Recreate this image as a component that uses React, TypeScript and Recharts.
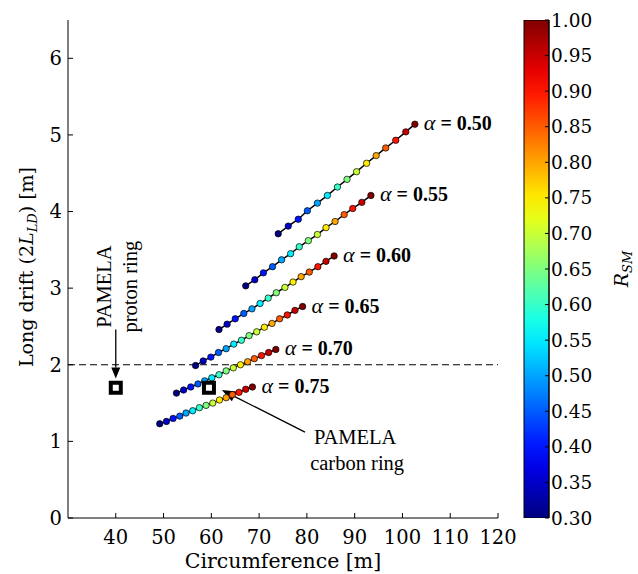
import React from "react";
import {
  ComposedChart,
  BarChart,
  Bar,
  Scatter,
  XAxis,
  YAxis,
  ReferenceLine,
  ReferenceDot,
} from "recharts";

// R_SM value of each point along a line (same for every alpha)
const rsm = [0.3, 0.35, 0.4, 0.45, 0.5, 0.55, 0.6, 0.65, 0.7, 0.75, 0.8, 0.85, 0.9, 0.95, 1.0];

const circ050 = [74.0, 76.1, 78.2, 80.1, 82.2, 84.3, 86.4, 88.4, 90.4, 92.5, 94.5, 96.5, 98.6, 100.7, 102.6];
const drift050 = [3.71, 3.81, 3.9, 4.01, 4.11, 4.21, 4.32, 4.42, 4.52, 4.63, 4.73, 4.83, 4.93, 5.04, 5.14];

const circ055 = [67.2, 69.1, 70.9, 72.8, 74.7, 76.6, 78.4, 80.3, 82.2, 84.0, 85.9, 87.8, 89.6, 91.5, 93.4];
const drift055 = [3.03, 3.11, 3.2, 3.28, 3.37, 3.45, 3.54, 3.62, 3.7, 3.79, 3.87, 3.96, 4.04, 4.12, 4.21];

const circ060 = [61.6, 63.3, 65.0, 66.8, 68.5, 70.2, 71.9, 73.6, 75.4, 77.1, 78.8, 80.5, 82.3, 84.0, 85.7];
const drift060 = [2.46, 2.53, 2.6, 2.67, 2.73, 2.8, 2.87, 2.94, 3.01, 3.08, 3.15, 3.21, 3.28, 3.35, 3.42];

const circ065 = [56.7, 58.3, 59.9, 61.5, 63.1, 64.7, 66.3, 67.9, 69.5, 71.1, 72.7, 74.3, 75.9, 77.5, 79.1];
const drift065 = [1.99, 2.05, 2.1, 2.16, 2.21, 2.27, 2.32, 2.38, 2.43, 2.49, 2.54, 2.6, 2.65, 2.71, 2.76];

const circ070 = [52.7, 54.2, 55.7, 57.2, 58.6, 60.1, 61.6, 63.1, 64.6, 66.1, 67.6, 69.0, 70.5, 72.0, 73.5];
const drift070 = [1.63, 1.67, 1.71, 1.75, 1.79, 1.83, 1.87, 1.92, 1.96, 2.0, 2.04, 2.08, 2.12, 2.16, 2.2];

const circ075 = [49.2, 50.6, 52.0, 53.4, 54.7, 56.1, 57.5, 58.9, 60.3, 61.7, 63.1, 64.4, 65.8, 67.2, 68.6];
const drift075 = [1.23, 1.26, 1.3, 1.33, 1.37, 1.4, 1.44, 1.47, 1.5, 1.54, 1.57, 1.61, 1.64, 1.68, 1.71];

const alphas = ["0.50", "0.55", "0.60", "0.65", "0.70", "0.75"];
const circs = [circ050, circ055, circ060, circ065, circ070, circ075];
const drifts = [drift050, drift055, drift060, drift065, drift070, drift075];

// PAMELA proton ring, carbon ring
const pamelaCirc = [40, 59.5];
const pamelaDrift = [1.7, 1.7];

const xTicks = [40, 50, 60, 70, 80, 90, 100, 110, 120];
const yTicks = [0, 1, 2, 3, 4, 5, 6];

const jet = (v: number) => {
  const t = (v - 0.3) / 0.7;
  const c = (d: number) => Math.max(0, Math.min(1, 1.5 - Math.abs(4 * t - d)));
  return `rgb(${Math.round(255 * c(3))},${Math.round(255 * c(2))},${Math.round(255 * c(1))})`;
};

const series = alphas.map((a, i) => ({
  alpha: a,
  data: circs[i].map((x, j) => ({ x, y: drifts[i][j], r: rsm[j] })),
}));

const pamela = pamelaCirc.map((x, i) => ({ x, y: pamelaDrift[i] }));

// colour bar: one bar spanning the whole R_SM range
const cbData = [{ name: "R_SM", range: [rsm[0], rsm[rsm.length - 1]] }];

const serif = "DejaVu Serif";
const times = "Liberation Serif";

const Dot = (p: any) => (
  <circle cx={p.cx} cy={p.cy} r={3.2} fill={jet(p.payload.r)} stroke="#000" strokeWidth={0.7} />
);

const Square = (p: any) => (
  <rect x={p.cx - 5} y={p.cy - 5} width={10} height={10} fill="#fff" stroke="#000" strokeWidth={4} />
);

const arrow = (head: number, wing: number) => (p: any) => {
  const { x1, y1, x2, y2 } = p;
  const dx = x2 - x1;
  const dy = y2 - y1;
  const len = Math.sqrt(dx * dx + dy * dy);
  const ux = dx / len;
  const uy = dy / len;
  const bx = x2 - ux * head;
  const by = y2 - uy * head;
  return (
    <g>
      <line x1={x1} y1={y1} x2={bx} y2={by} stroke="#000" strokeWidth={1.3} />
      <polygon
        points={`${x2},${y2} ${bx - uy * wing},${by + ux * wing} ${bx + uy * wing},${by - ux * wing}`}
        fill="#000"
      />
    </g>
  );
};

const alphaTag = (a: string) => (p: any) => (
  <text x={p.cx + 9} y={p.cy + 6} fontFamily={times} fontSize={20} fill="#000">
    <tspan fontStyle="italic" fontSize={22}>α</tspan>
    <tspan fontWeight="bold"> = {a}</tspan>
  </text>
);

const protonText = (p: any) => (
  <g fontFamily={times} fontSize={20.5} fill="#000" textAnchor="middle">
    <text x={p.cx} y={p.cy} transform={`rotate(-90 ${p.cx} ${p.cy})`}>PAMELA</text>
    <text x={p.cx + 26} y={p.cy} transform={`rotate(-90 ${p.cx + 26} ${p.cy})`}>proton ring</text>
  </g>
);

const carbonText = (p: any) => (
  <g fontFamily={times} fontSize={20.5} fill="#000" textAnchor="middle">
    <text x={p.cx} y={p.cy}>PAMELA</text>
    <text x={p.cx + 2} y={p.cy + 26}>carbon ring</text>
  </g>
);

const DriftLabel = (p: any) => {
  const x = p.viewBox.x + 15;
  const y = p.viewBox.y + p.viewBox.height / 2 - 2;
  return (
    <text x={x} y={y} transform={`rotate(-90 ${x} ${y})`} textAnchor="middle" fontFamily={serif} fontSize={19} fill="#000">
      Long drift (2<tspan fontStyle="italic">L</tspan>
      <tspan fontStyle="italic" fontSize={13} dy={4}>LD</tspan>
      <tspan dy={-4}>) [m]</tspan>
    </text>
  );
};

const RsmLabel = (p: any) => {
  const x = p.viewBox.x + p.viewBox.width - 10;
  const y = p.viewBox.y + p.viewBox.height / 2;
  return (
    <text x={x} y={y} transform={`rotate(-90 ${x} ${y})`} textAnchor="middle" fontFamily={serif} fontSize={19} fill="#000">
      <tspan fontStyle="italic">R</tspan>
      <tspan fontStyle="italic" fontSize={13} dy={4}>SM</tspan>
    </text>
  );
};

const tickStyle = { fontFamily: serif, fontSize: 19.5, fill: "#000" };
const cbTickStyle = { fontFamily: serif, fontSize: 18.5, fill: "#000" };
const gradStops = Array.from({ length: 21 }, (_, i) => i / 20);

export default function App() {
  return (
    <div style={{ position: "absolute", left: 0, top: 0, width: 638, height: 574, background: "#fff" }}>
      <div style={{ position: "absolute", left: 0, top: 0 }}>
        <ComposedChart width={638} height={574} margin={{ top: 20, right: 140, bottom: 0, left: 18 }}>
          <XAxis
            xAxisId="b"
            type="number"
            dataKey="x"
            domain={[30, 120]}
            ticks={xTicks}
            allowDataOverflow
            height={56}
            tickSize={-5}
            tickMargin={17}
            tick={tickStyle}
            stroke="#000"
            label={{ value: "Circumference [m]", position: "insideBottom", offset: 6, style: { fontFamily: serif, fontSize: 20.5, fill: "#000" } }}
          />
          <XAxis xAxisId="t" orientation="top" type="number" domain={[30, 120]} ticks={xTicks} allowDataOverflow height={0} tickSize={-5} tick={false} stroke="#000" />
          <YAxis
            yAxisId="l"
            type="number"
            dataKey="y"
            domain={[0, 6.5]}
            ticks={yTicks}
            allowDataOverflow
            width={50}
            tickSize={-5}
            tickMargin={11}
            tick={tickStyle}
            stroke="#000"
            label={<DriftLabel />}
          />
          <YAxis yAxisId="r" orientation="right" type="number" domain={[0, 6.5]} ticks={yTicks} allowDataOverflow width={0} tickSize={-5} tick={false} stroke="#000" />
          <ReferenceLine xAxisId="b" yAxisId="l" y={2} stroke="#000" strokeWidth={1.2} strokeDasharray="7 4" />
          {series.map((s) => (
            <Scatter
              key={s.alpha}
              xAxisId="b"
              yAxisId="l"
              data={s.data}
              line={{ stroke: "#000", strokeWidth: 1.5 }}
              lineType="joint"
              shape={Dot}
              isAnimationActive={false}
            />
          ))}
          <Scatter xAxisId="b" yAxisId="l" data={pamela} shape={Square} isAnimationActive={false} />
          {series.map((s) => {
            const last = s.data[s.data.length - 1];
            return (
              <ReferenceDot key={"t" + s.alpha} xAxisId="b" yAxisId="l" x={last.x} y={last.y} r={0} shape={alphaTag(s.alpha)} />
            );
          })}
          <ReferenceLine
            xAxisId="b"
            yAxisId="l"
            segment={[{ x: 40, y: 2.46 }, { x: 40, y: 1.82 }]}
            shape={arrow(11, 4.5)}
          />
          <ReferenceLine
            xAxisId="b"
            yAxisId="l"
            segment={[{ x: 79.6, y: 1.12 }, { x: 62.2, y: 1.67 }]}
            shape={arrow(14, 5.5)}
          />
          <ReferenceDot xAxisId="b" yAxisId="l" x={39.1} y={3.02} r={0} shape={protonText} />
          <ReferenceDot xAxisId="b" yAxisId="l" x={90.1} y={0.97} r={0} shape={carbonText} />
        </ComposedChart>
      </div>
      <div style={{ position: "absolute", left: 500, top: 0 }}>
        <BarChart width={138} height={574} data={cbData} margin={{ top: 20, right: 0, bottom: 56, left: 24 }} barCategoryGap={0}>
          <defs>
            <linearGradient id="jetGrad" x1="0" y1="1" x2="0" y2="0">
              {gradStops.map((t) => (
                <stop key={t} offset={t} stopColor={jet(0.3 + 0.7 * t)} />
              ))}
            </linearGradient>
          </defs>
          <XAxis dataKey="name" hide />
          <YAxis
            orientation="right"
            type="number"
            domain={[0.3, 1]}
            ticks={rsm}
            allowDataOverflow
            width={89}
            tickSize={-4}
            tickMargin={6}
            tick={cbTickStyle}
            tickFormatter={(v: number) => v.toFixed(2)}
            stroke="#000"
            label={<RsmLabel />}
          />
          <Bar dataKey="range" fill="url(#jetGrad)" stroke="#000" strokeWidth={1} isAnimationActive={false} />
        </BarChart>
      </div>
    </div>
  );
}
